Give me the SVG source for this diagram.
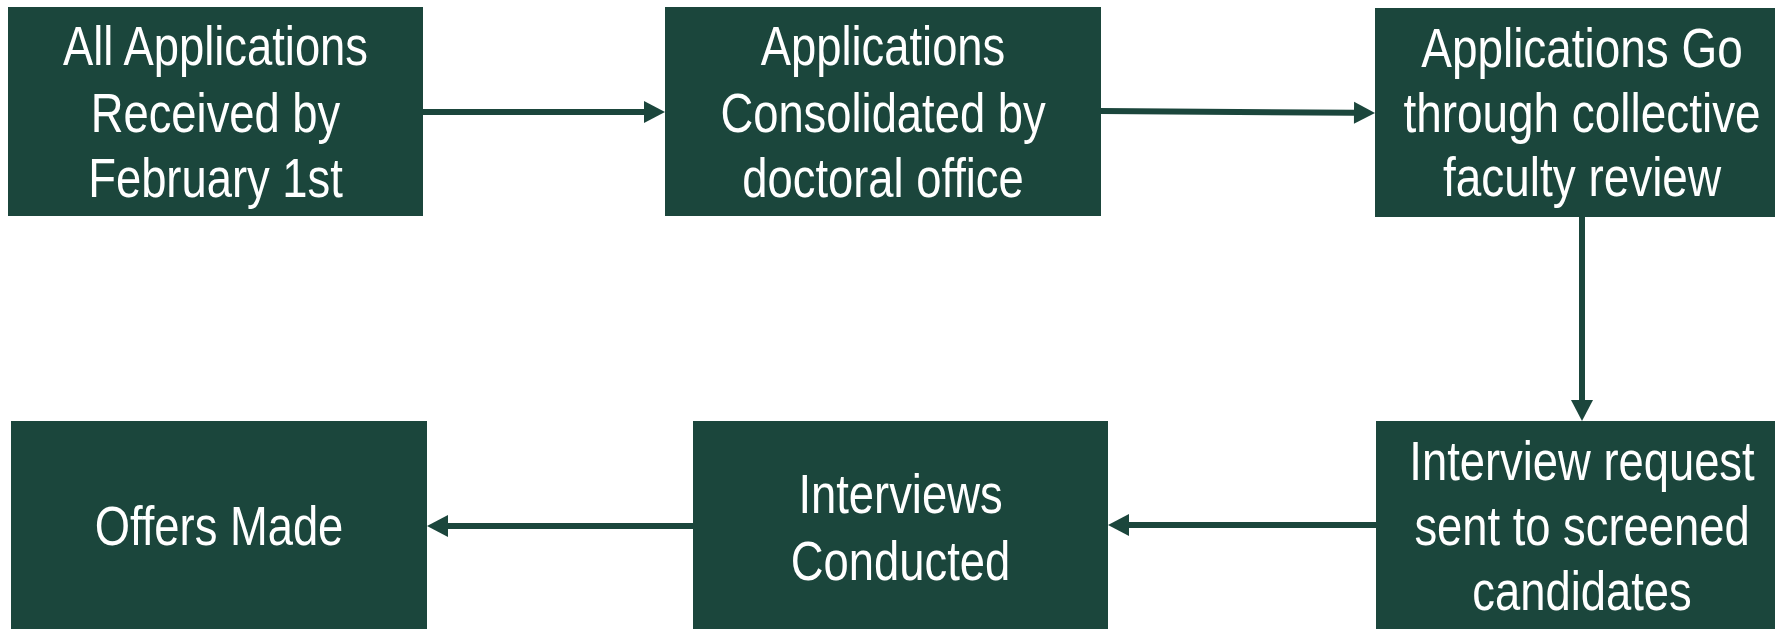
<svg xmlns="http://www.w3.org/2000/svg" width="1775" height="629" viewBox="0 0 1775 629">
<style>
.box{fill:#1b463c}
.lbl{fill:#ffffff;font-family:"Liberation Sans",Arial,sans-serif;font-size:56px;text-anchor:middle}
.edge{stroke:#1b463c;stroke-width:6;fill:none;marker-end:url(#ah)}
</style>
<defs>
<marker id="ah" markerUnits="userSpaceOnUse" markerWidth="21" markerHeight="22" refX="0" refY="11" orient="auto" overflow="visible">
<path d="M0,0 L21,11 L0,22 z" fill="#1b463c"/>
</marker>
</defs>
<rect width="1775" height="629" fill="#ffffff"/>
<g id="n1"><rect class="box" x="8" y="7" width="415" height="209"/>
<text class="lbl" transform="translate(215.5,0) scale(0.81,1)"><tspan x="0" y="65">All Applications</tspan><tspan x="0" y="132">Received by</tspan><tspan x="0" y="197">February 1st</tspan></text></g>
<g id="n2"><rect class="box" x="665" y="7" width="436" height="209"/>
<text class="lbl" transform="translate(883,0) scale(0.81,1)"><tspan x="0" y="65">Applications</tspan><tspan x="0" y="132">Consolidated by</tspan><tspan x="0" y="197">doctoral office</tspan></text></g>
<g id="n3"><rect class="box" x="1375" y="8" width="414" height="209"/>
<text class="lbl" transform="translate(1582,0) scale(0.82,1)"><tspan x="0" y="67">Applications Go</tspan><tspan x="0" y="132">through collective</tspan><tspan x="0" y="196">faculty review</tspan></text></g>
<g id="n4"><rect class="box" x="1376" y="421" width="414" height="209"/>
<text class="lbl" transform="translate(1582,0) scale(0.81,1)"><tspan x="0" y="480">Interview request</tspan><tspan x="0" y="545">sent to screened</tspan><tspan x="0" y="610">candidates</tspan></text></g>
<g id="n5"><rect class="box" x="693" y="421" width="415" height="209"/>
<text class="lbl" transform="translate(900.5,0) scale(0.81,1)"><tspan x="0" y="513">Interviews</tspan><tspan x="0" y="580">Conducted</tspan></text></g>
<g id="n6"><rect class="box" x="11" y="421" width="416" height="209"/>
<text class="lbl" transform="translate(219,0) scale(0.81,1)"><tspan x="0" y="545">Offers Made</tspan></text></g>
<g id="connectors">
<line class="edge" x1="423" y1="112" x2="644" y2="112"/>
<line class="edge" x1="1101" y1="111" x2="1354" y2="112.8"/>
<line class="edge" x1="1582" y1="217" x2="1582" y2="400"/>
<line class="edge" x1="1376" y1="525" x2="1129" y2="525"/>
<line class="edge" x1="693" y1="526" x2="448" y2="526"/>
</g>
</svg>
